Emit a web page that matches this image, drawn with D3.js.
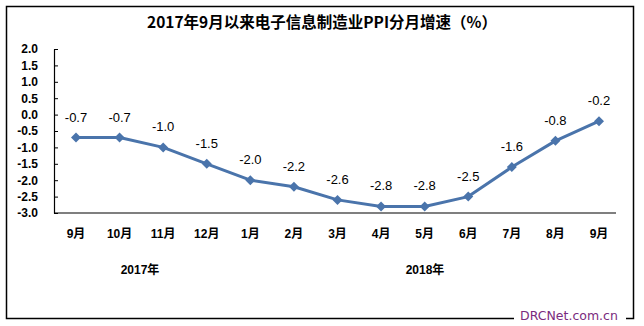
<!DOCTYPE html>
<html>
<head>
<meta charset="utf-8">
<script src="https://cdn.jsdelivr.net/npm/d3@7"></script>
<style>
  html, body { margin: 0; padding: 0; background: #fff; }
  svg { display: block; }
</style>
</head>
<body>
<svg id="chart" width="644" height="326"></svg>
<script>
// Monthly PPI growth of the electronic information manufacturing industry
const months = ["9月", "10月", "11月", "12月", "1月", "2月", "3月", "4月", "5月", "6月", "7月", "8月", "9月"];
const monthKeys = months.map((m, i) => i + ":" + m);
const ppi = [-0.7, -0.7, -1.0, -1.5, -2.0, -2.2, -2.6, -2.8, -2.8, -2.5, -1.6, -0.8, -0.2];
const yTicks = [2.0, 1.5, 1.0, 0.5, 0.0, -0.5, -1.0, -1.5, -2.0, -2.5, -3.0];
const years = [{ label: "2017年", from: 0, to: 3 }, { label: "2018年", from: 4, to: 12 }];

const svg = d3.select("#chart");
const lineColor = "#4a74ab";
const latin = "Arial, 'Liberation Sans', sans-serif";
const cjk = "Arial, 'Liberation Sans', 'Noto Sans CJK SC', sans-serif";
const fmt = v => v.toFixed(1); // plain hyphen-minus, one decimal

// outer frame
svg.append("rect")
  .attr("x", 6.5).attr("y", 6.5).attr("width", 627).attr("height", 312)
  .attr("fill", "#fff").attr("stroke", "#000").attr("stroke-width", 1.5);

// title
svg.append("text")
  .attr("x", 322).attr("y", 28)
  .attr("text-anchor", "middle")
  .attr("font-family", "'Noto Sans CJK SC', sans-serif")
  .attr("font-weight", "bold").attr("font-size", 15.5)
  .text("2017年9月以来电子信息制造业PPI分月增速（%）");

const axisLeft = 54, axisRight = 616, yTop = 49, yBottom = 213;

const x = d3.scalePoint().domain(monthKeys).range([76, 599]);
const y = d3.scaleLinear().domain([-3, 2]).range([yBottom, yTop]);

// y axis with inward ticks
const gy = svg.append("g").attr("transform", `translate(${axisLeft},0)`)
  .call(d3.axisLeft(y).tickValues(yTicks).tickFormat(fmt)
    .tickSizeInner(-4).tickSizeOuter(0).tickPadding(16));
gy.select(".domain").attr("stroke", "#000").attr("stroke-width", 1.2);
gy.selectAll(".tick line").attr("stroke", "#000");
gy.selectAll(".tick text")
  .attr("font-family", latin).attr("font-weight", "bold").attr("font-size", 12)
  .attr("fill", "#000");

// x axis line
const gx = svg.append("g").attr("transform", `translate(0,${yBottom})`);
gx.append("line").attr("x1", axisLeft).attr("x2", axisRight)
  .attr("stroke", "#000").attr("stroke-width", 1.2);

// month labels
svg.append("g").selectAll("text").data(monthKeys).join("text")
  .attr("x", d => x(d)).attr("y", 238)
  .attr("text-anchor", "middle")
  .attr("font-family", cjk).attr("font-weight", "bold").attr("font-size", 12)
  .text((d, i) => months[i]);

// year labels
const yearX = [140, 425];
svg.append("g").selectAll("text").data(years).join("text")
  .attr("x", (d, i) => yearX[i]).attr("y", 274)
  .attr("text-anchor", "middle")
  .attr("font-family", cjk).attr("font-weight", "bold").attr("font-size", 12)
  .text(d => d.label);

// series line
const pts = monthKeys.map((k, i) => ({ k, v: ppi[i] }));
svg.append("path").datum(pts)
  .attr("fill", "none").attr("stroke", lineColor).attr("stroke-width", 3)
  .attr("stroke-linejoin", "round")
  .attr("d", d3.line().x(d => x(d.k)).y(d => y(d.v)));

// diamond markers (square rotated 45°)
svg.append("g").selectAll("path").data(pts).join("path")
  .attr("transform", d => `translate(${x(d.k)},${y(d.v)}) rotate(45)`)
  .attr("d", d3.symbol(d3.symbolSquare, 50)())
  .attr("fill", lineColor);

// value labels
svg.append("g").selectAll("text").data(pts).join("text")
  .attr("x", d => x(d.k)).attr("y", d => y(d.v) - 16)
  .attr("text-anchor", "middle")
  .attr("font-family", latin).attr("font-size", 13)
  .text(d => fmt(d.v));

// site mark
svg.append("rect").attr("x", 514).attr("y", 306).attr("width", 112).attr("height", 20).attr("fill", "#fff");
svg.append("text")
  .attr("x", 569).attr("y", 320)
  .attr("text-anchor", "middle")
  .attr("font-family", "Verdana, 'DejaVu Sans', sans-serif").attr("font-size", 12.5)
  .attr("fill", "#7a2b7e")
  .text("DRCNet.com.cn");
</script>
</body>
</html>
